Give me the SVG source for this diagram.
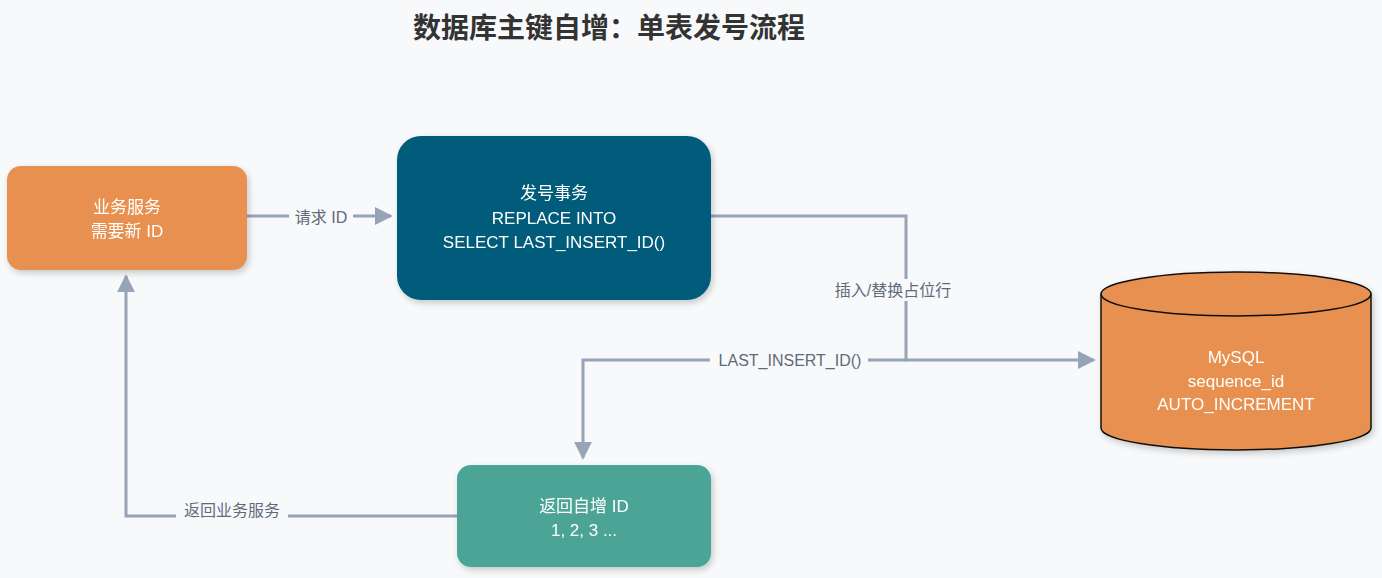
<svg xmlns="http://www.w3.org/2000/svg" width="1382" height="578" viewBox="0 0 1382 578">
<defs>
<style>
.t{font-family:"Liberation Sans","Noto Sans CJK SC",sans-serif;font-size:17px;fill:#fff;text-anchor:middle}
.l{font-family:"Liberation Sans","Noto Sans CJK SC",sans-serif;font-size:16px;fill:#5f6b7a;text-anchor:middle}
.c{fill:none;stroke:#97a3b6;stroke-width:3}
.bg{fill:#f8f9fb}
</style>
<marker id="a" viewBox="0 0 10 10" refX="9" refY="5" markerWidth="6" markerHeight="6" markerUnits="userSpaceOnUse" orient="auto"><path d="M0,0L10,5L0,10z" fill="#97a3b6"/></marker>
<marker id="b" viewBox="0 0 10 10" refX="9" refY="5" markerWidth="6" markerHeight="6" orient="auto"><path d="M0,0L10,5L0,10z" fill="#97a3b6"/></marker>
<filter id="s" x="-10%" y="-10%" width="130%" height="130%"><feDropShadow dx="2" dy="3" stdDeviation="3" flood-opacity="0.2"/></filter>
</defs>
<rect width="1382" height="578" fill="#f8f9fb"/>
<text x="609" y="38" font-family="'Liberation Sans','Noto Sans CJK SC',sans-serif" font-size="28" font-weight="bold" fill="#333" text-anchor="middle">数据库主键自增：单表发号流程</text>
<g id="connectors">
<path class="c" d="M247,216H391" marker-end="url(#b)"/>
<rect class="bg" x="289" y="206" width="64" height="22"/>
<text class="l" x="321" y="223">请求 ID</text>
<path class="c" d="M711,216H906V360H1094" marker-end="url(#b)"/>
<path class="c" d="M906,360H583V458" marker-end="url(#b)"/>
<rect class="bg" x="840" y="279" width="110" height="22"/>
<text class="l" x="893" y="296">插入/替换占位行</text>
<rect class="bg" x="710" y="349" width="158" height="22"/>
<text class="l" x="790" y="366">LAST_INSERT_ID()</text>
<path class="c" d="M457,516H126V276" marker-end="url(#b)"/>
<rect class="bg" x="176" y="499" width="112" height="22"/>
<text class="l" x="232" y="516">返回业务服务</text>
</g>
<g id="service" filter="url(#s)">
<rect x="7" y="166" width="240" height="104" rx="14" fill="#e8904f"/>
<text class="t" x="127" y="213">业务服务</text>
<text class="t" x="127" y="237">需要新 ID</text>
</g>
<g id="txn" filter="url(#s)">
<rect x="397" y="136" width="314" height="164" rx="24" fill="#005b7a"/>
<text class="t" x="554" y="199">发号事务</text>
<text class="t" x="554" y="224">REPLACE INTO</text>
<text class="t" x="554" y="248">SELECT LAST_INSERT_ID()</text>
</g>
<g id="mysql" filter="url(#s)">
<path d="M1101,294V428A135,22 0 0 0 1371,428V294" fill="#e8904f" stroke="#111" stroke-width="1.5"/>
<ellipse cx="1236" cy="294" rx="135" ry="22" fill="#e8904f" stroke="#111" stroke-width="1.5"/>
<text class="t" x="1236" y="363">MySQL</text>
<text class="t" x="1236" y="387">sequence_id</text>
<text class="t" x="1236" y="410">AUTO_INCREMENT</text>
</g>
<g id="ret" filter="url(#s)">
<rect x="457" y="465" width="254" height="102" rx="14" fill="#4ca496"/>
<text class="t" x="584" y="512">返回自增 ID</text>
<text class="t" x="584" y="536">1, 2, 3 ...</text>
</g>
</svg>
